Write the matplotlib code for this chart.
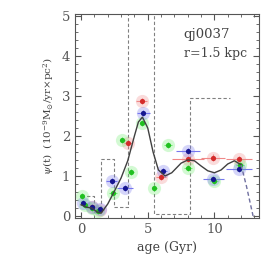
import numpy as np
import matplotlib
matplotlib.use('Agg')
import matplotlib.pyplot as plt
from matplotlib.ticker import MultipleLocator

plt.rcParams['font.family'] = ['DejaVu Serif']
plt.rcParams['mathtext.fontset'] = 'dejavuserif'

# data
red_x = [0.8, 1.4, 3.55, 4.55, 6.0, 8.05, 9.9, 11.85]
red_y = [0.22, 0.15, 1.82, 2.87, 0.98, 1.42, 1.46, 1.43]
red_xerr = [0.3, 0.3, 0.3, 0.4, 0.4, 1.2, 0.9, 1.0]

blue_x = [0.18, 0.8, 1.45, 2.3, 3.3, 4.68, 6.18, 8.05, 9.93, 11.85]
blue_y = [0.33, 0.22, 0.17, 0.87, 0.70, 2.58, 1.12, 1.63, 0.93, 1.18]
blue_xerr = [0.2, 0.2, 0.3, 0.4, 0.6, 0.5, 0.3, 0.9, 0.8, 1.0]

green_x = [0.05, 0.3, 0.8, 1.3, 2.4, 3.1, 3.75, 4.6, 5.5, 6.5, 8.05, 9.95, 11.9]
green_y = [0.5, 0.27, 0.2, 0.12, 0.58, 1.9, 1.1, 2.32, 0.7, 1.77, 1.2, 0.88, 1.28]
green_xerr = [0.1, 0.1, 0.2, 0.2, 0.3, 0.2, 0.2, 0.2, 0.2, 0.3, 0.3, 0.3, 0.3]

curve_x = [0.0, 0.4, 0.8, 1.2, 1.5, 2.0, 2.5, 3.0, 3.5, 4.0, 4.3, 4.6, 5.0, 5.4,
           5.8, 6.3, 6.8, 7.5, 8.0, 8.5, 9.0, 9.5, 10.0, 10.5, 11.0, 11.5, 12.0]
curve_y = [0.28, 0.22, 0.2, 0.1, 0.07, 0.3, 0.62, 0.95, 1.38, 2.0, 2.35, 2.47, 2.2, 1.6,
           1.15, 1.0, 1.08, 1.32, 1.4, 1.38, 1.25, 1.13, 1.08, 1.15, 1.3, 1.38, 1.28]
tail_x = [12.0, 12.4, 12.9]
tail_y = [1.28, 0.75, 0.0]

step_edges = [0.0, 1.0, 1.5, 2.5, 3.55, 5.5, 8.2, 11.2]
step_vals = [0.5, 0.1, 1.42, 0.22, 6.0, 0.04, 2.95]

fig = plt.figure(figsize=(2.73, 2.73), dpi=100)
ax = fig.add_axes([0.275, 0.2015, 0.674, 0.7475])

# step histogram (gray dashed)
sx, sy = [], []
for i, v in enumerate(step_vals):
    sx += [step_edges[i], step_edges[i + 1]]
    sy += [v, v]
ax.plot(sx, sy, color='#808080', ls=(0, (3, 2)), lw=0.8, zorder=1)

def pts(x, y, xerr, col, ecol):
    ax.errorbar(x, y, xerr=xerr, yerr=0.08, fmt='none', ecolor=ecol, elinewidth=0.8, zorder=2)
    ax.scatter(x, y, s=90, color=ecol, alpha=0.3, lw=0, zorder=3)
    ax.scatter(x, y, s=14, color=col, lw=0, zorder=4)

pts(red_x, red_y, red_xerr, '#d42a2a', '#f08888')
pts(green_x, green_y, green_xerr, '#20c020', '#70ee70')
pts(blue_x, blue_y, blue_xerr, '#161690', '#7777ee')

ax.plot(curve_x, curve_y, color='#404040', lw=1.0, zorder=5)
ax.plot(tail_x, tail_y, color='#7070a0', lw=1.0, ls=(0, (3, 2)), zorder=5)

ax.text(7.7, 4.54, 'qj0037', fontsize=9.5, va='center', color='#444444')
ax.text(7.7, 4.05, 'r=1.5 kpc', fontsize=9, va='center', color='#444444')

ax.set_xlim(-0.45, 13.35)
ax.set_ylim(-0.05, 5.05)
ax.xaxis.set_major_locator(MultipleLocator(5))
ax.xaxis.set_minor_locator(MultipleLocator(1))
ax.yaxis.set_major_locator(MultipleLocator(1))
ax.yaxis.set_minor_locator(MultipleLocator(0.2))
ax.tick_params(which='both', direction='in', top=True, right=True, labelsize=9.5,
               colors='#555555')
ax.tick_params(which='major', length=4)
ax.tick_params(which='minor', length=2)
for s in ax.spines.values():
    s.set_color('#555555')
    s.set_linewidth(0.8)

ax.set_xlabel('age (Gyr)', fontsize=9, color='#444444')
ax.set_ylabel(r'$\psi$(t)  (10$^{-9}$M$_{\odot}$/yr$\times$pc$^2$)', fontsize=7.5,
              color='#444444')

fig.savefig('out.png', dpi=100)
